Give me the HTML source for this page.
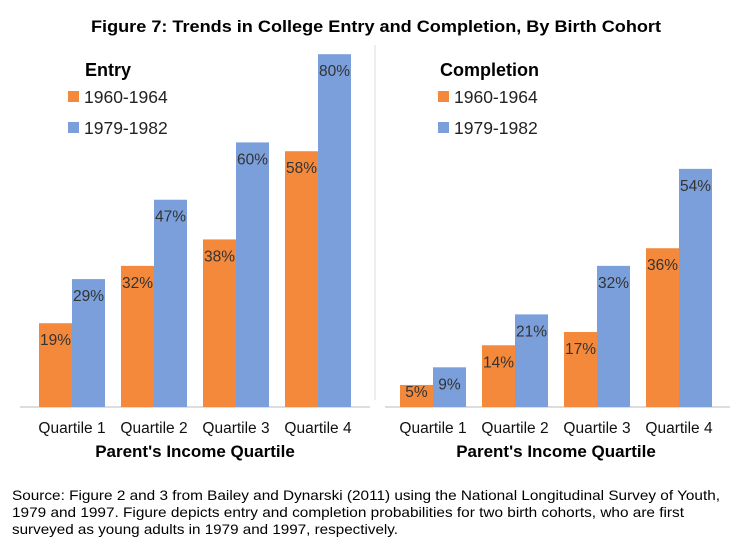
<!DOCTYPE html>
<html><head><meta charset="utf-8"><style>
body{margin:0;background:#fff;font-family:"Liberation Sans",Arial,sans-serif;}
svg text{font-family:"Liberation Sans",Arial,sans-serif;}
</style></head><body>
<svg id="chart" width="752" height="553" viewBox="0 0 752 553" xmlns="http://www.w3.org/2000/svg">
<text x="91" y="32" textLength="570" lengthAdjust="spacingAndGlyphs" font-size="17" font-weight="bold" fill="#000">Figure 7: Trends in College Entry and Completion, By Birth Cohort</text>
<line x1="375" y1="45" x2="375" y2="400" stroke="#ddd" stroke-width="1"/>
<g id="panels"></g>
<text x="12" y="500" font-size="14" textLength="708" lengthAdjust="spacingAndGlyphs" fill="#000">Source: Figure 2 and 3 from Bailey and Dynarski (2011) using the National Longitudinal Survey of Youth,</text>
<text x="12" y="517" font-size="14" textLength="672" lengthAdjust="spacingAndGlyphs" fill="#000">1979 and 1997.  Figure depicts entry and completion probabilities for two birth cohorts, who are first</text>
<text x="12" y="534" font-size="14" textLength="386" lengthAdjust="spacingAndGlyphs" fill="#000">surveyed as young adults in 1979 and 1997, respectively.</text>
</svg>
<script>
const categories=["Quartile 1","Quartile 2","Quartile 3","Quartile 4"];
const entry1960=[19,32,38,58];
const entry1979=[29,47,60,80];
const completion1960=[5,14,17,36];
const completion1979=[9,21,32,54];
const seriesNames=["1960-1964","1979-1982"];
const NS="http://www.w3.org/2000/svg";
const g=document.getElementById('panels');
const baseY=407, pxPer=4.41;
function y(v){return baseY-v*pxPer;}
function mk(tag,attrs,text){const e=document.createElementNS(NS,tag);for(const k in attrs)e.setAttribute(k,attrs[k]);if(text!==undefined)e.textContent=text;g.appendChild(e);return e;}
function panel(key,title,x0,axisL,axisR,a,b,legX,titleX){
  let e=mk('line',{x1:axisL,y1:baseY,x2:axisR,y2:baseY,stroke:'#bbb'});
  
  e=mk('text',{x:titleX,y:76,'font-size':18,'font-weight':'bold'},title);
  
  const cols=['#f4893b','#7b9fdb'];
  [0,1].forEach(i=>{
    e=mk('rect',{x:legX,y:91+i*31,width:11,height:11,fill:cols[i]});
    
    e=mk('text',{x:legX+16,y:103+i*31,'font-size':17.5,fill:'#222'},seriesNames[i]);
    
  });
  categories.forEach((c,i)=>{
    const gx=x0+i*82;
    [a[i],b[i]].forEach((v,j)=>{
      const bx=gx+j*33;
      let r=mk('rect',{x:bx,y:y(v),width:33,height:baseY-y(v),fill:cols[j]});
      
      
      let t=mk('text',{x:bx+16.5,y:Math.min(y(v)+22,baseY-10),'text-anchor':'middle','font-size':15.5,fill:'#333'},v+'%');
      
      
    });
    let t=mk('text',{x:gx+33,y:433,'text-anchor':'middle','font-size':15.5,fill:'#111'},c);
    
    
  });
  e=mk('text',{x:x0+156,y:457,'text-anchor':'middle','font-size':17,'font-weight':'bold'},"Parent's Income Quartile");
  
}
panel('entry','Entry',39,20,370,entry1960,entry1979,68,85);
panel('completion','Completion',400,385,730,completion1960,completion1979,438,440);
</script>
</body></html>
